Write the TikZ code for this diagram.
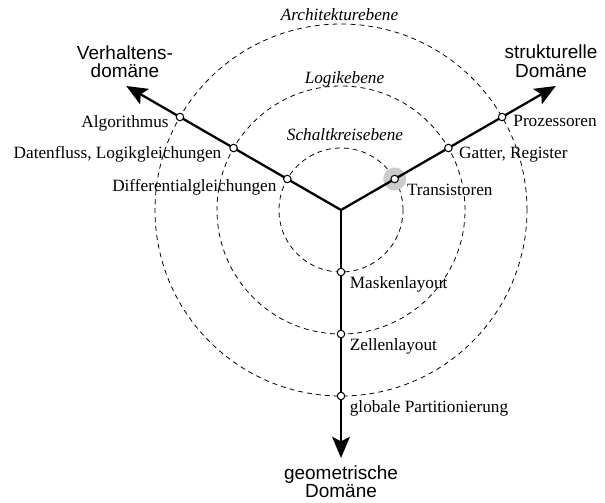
\documentclass[tikz,border=0pt]{standalone}
\usepackage{fontspec}
\setmainfont{Liberation Serif}
\setsansfont{Liberation Sans}
\usetikzlibrary{arrows.meta}

\newcommand{\leveldot}[2]{% Parameters: name, position
  \node[leveldotstyle] (#1) at (#2) {};
}
\newcommand{\levellabel}[3]{% Parameters: dot, shift, text
  \node[lbl,anchor=base west] at ([shift={(#2)}]#1) {#3};
}
\newcommand{\levellabelleft}[3]{% Parameters: dot, shift, text
  \node[lbl,anchor=base east] at ([shift={(#2)}]#1) {#3};
}

\begin{document}
\begin{tikzpicture}[
    leveldotstyle/.style={circle,draw=black,fill=white,line width=0.6pt,inner sep=0pt,minimum size=0.15cm},
    axis/.style={line width=1.3pt,-{Stealth[length=12pt,width=10pt,inset=2.5pt]}},
    ring/.style={line width=0.45pt,dash pattern=on 2.8pt off 2.3pt},
    lbl/.style={inner sep=0pt,font=\fontsize{9.8}{11}\selectfont},
    lvl/.style={inner sep=0pt,anchor=base,font=\fontsize{9.8}{11}\selectfont\itshape},
    domainlabel/.style={inner sep=0pt,anchor=base,align=center,font=\fontsize{10.8}{10.5}\selectfont\sffamily}
  ]
    \useasboundingbox (-6.82,-5.84) rectangle (5.28,4.2);
    \coordinate (c) at (0,0);
    % levels
    \draw[ring] (c) circle (1.24);
    \draw[ring] (c) circle (2.48);
    \draw[ring] (c) circle (3.72);
    \node[lvl] (schalt) at (0.08,1.4) {Schaltkreisebene};
    \node[lvl] (logik) at (0.07,2.53) {Logikebene};
    \node[lvl] (arch) at (-0.03,3.8) {Architekturebene};
    % highlight
    \fill[black!20] (30:1.24) circle (0.23);
    % axes
    \coordinate (vtip) at (150:4.96);
    \coordinate (stip) at (30:4.96);
    \coordinate (gtip) at (270:4.96);
    \draw[axis] (c) -- (vtip);
    \draw[axis] (c) -- (stip);
    \draw[axis] (c) -- (gtip);
    \leveldot{dgl}{150:1.24}
    \leveldot{dfl}{150:2.48}
    \leveldot{alg}{150:3.72}
    \leveldot{trans}{30:1.24}
    \leveldot{gatt}{30:2.48}
    \leveldot{proz}{30:3.72}
    \leveldot{mask}{270:1.24}
    \leveldot{zell}{270:2.48}
    \leveldot{glob}{270:3.72}
    \levellabelleft{dgl}{-0.21,-0.24}{Differentialgleichungen}
    \levellabelleft{dfl}{-0.24,-0.21}{Datenfluss, Logikgleichungen}
    \levellabelleft{alg}{-0.22,-0.21}{Algorithmus}
    \levellabel{trans}{0.24,-0.32}{Transistoren}
    \levellabel{gatt}{0.21,-0.21}{Gatter, Register}
    \levellabel{proz}{0.22,-0.19}{Prozessoren}
    \levellabel{mask}{0.17,-0.33}{Maskenlayout}
    \levellabel{zell}{0.17,-0.33}{Zellenlayout}
    \levellabel{glob}{0.17,-0.32}{globale Partitionierung}
    % domains
    \node[domainlabel] (verh) at (-4.32,2.65) {Verhaltens-\\domäne};
    \node[domainlabel] (strukt) at (4.2,2.66) {strukturelle\\Domäne};
    \node[domainlabel] (geom) at (0,-5.75) {geometrische\\Domäne};
  \end{tikzpicture}
\end{document}
